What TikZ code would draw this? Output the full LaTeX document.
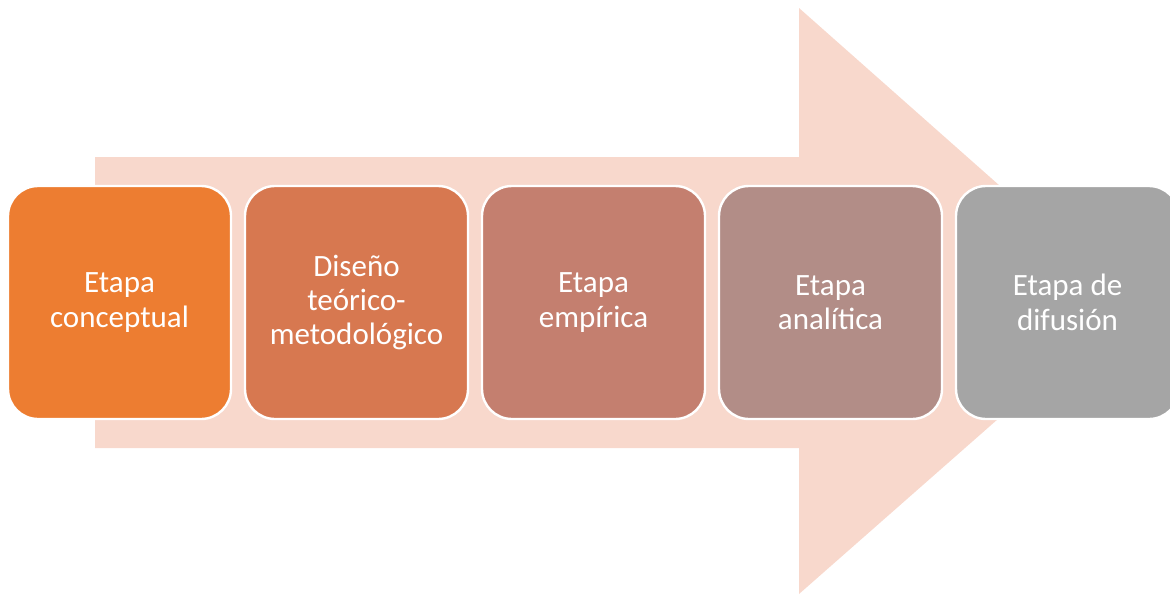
\documentclass[tikz,border=0pt]{standalone}
\usepackage{fontspec}
\setmainfont{Carlito}
\begin{document}
\begin{tikzpicture}[x=0.5pt,y=-0.5pt,
  stage/.style={draw=white,line width=1.2pt,rounded corners=15pt,minimum width=111.5pt,minimum height=116.5pt,
    text=white,align=center,inner sep=0pt,font=\fontsize{15.5}{17.2}\selectfont},
  flow/.style={fill=arrowpink,draw=none}]
\definecolor{arrowpink}{HTML}{F8D8CC}
\definecolor{cA}{HTML}{ED7D31}
\definecolor{cB}{HTML}{D77850}
\definecolor{cC}{HTML}{C47F6F}
\definecolor{cD}{HTML}{B28D87}
\definecolor{cE}{HTML}{A5A5A5}
\useasboundingbox (0,0) rectangle (1170,594);
\clip (0,0) rectangle (1170,594);
\fill[flow] (95,157) -- (799,157) -- (799,8) -- (1131,302) -- (799,594) -- (799,448) -- (95,448) -- cycle;
\node[stage,fill=cA] (s1) at (119.5,302.5) {Etapa\\conceptual};
\node[stage,fill=cB] (s2) at (356.5,302.5) {Diseño\\teórico-\\metodológico};
\node[stage,fill=cC] (s3) at (593.5,302.5) {Etapa\\empírica};
\node[stage,fill=cD] (s4) at (830.5,302.5) {Etapa\\analítica};
\node[stage,fill=cE] (s5) at (1067.5,302.5) {Etapa de\\difusión};
\end{tikzpicture}
\end{document}
